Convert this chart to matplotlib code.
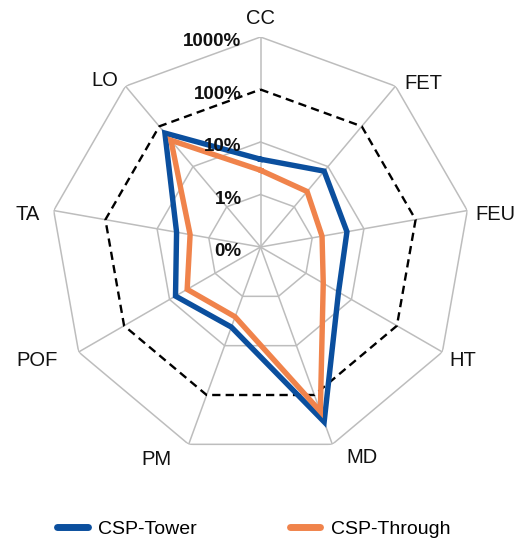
import numpy as np
import matplotlib
matplotlib.use("Agg")
import matplotlib.pyplot as plt
from matplotlib.lines import Line2D

plt.rcParams['font.family'] = ['Liberation Sans', 'DejaVu Sans']

# ---- data ----
categories = ["CC", "FET", "FEU", "HT", "MD", "PM", "POF", "TA", "LO"]
tower = [4.7, 7.7, 4.7, 5.2, 350, 4.2, 7.4, 4.2, 68]      # percent
through = [2.9, 2.4, 1.55, 2.4, 215, 2.6, 4.1, 2.3, 45]   # percent
ring_levels = [0.1, 1, 10, 100, 1000]
ring_labels = ["0%", "1%", "10%", "100%", "1000%"]
series_names = ["CSP-Tower", "CSP-Through"]

# ---- styling / layout ----
blue = "#0B4F9E"
orange = "#F0834B"
grid_col = "#BDBDBD"
label_offsets = [(0, -18), (28, -3), (28, 4), (20, 9), (30, 13),
                 (-32, 15), (-42, 8), (-26, 4), (-21, -6)]

W, H = 521, 543
fig = plt.figure(figsize=(W / 100, H / 100), dpi=100)
cx, cy, R = 260.5, 247.0, 210.0
ax = fig.add_axes([(cx - R) / W, (H - cy - R) / H, 2 * R / W, 2 * R / H],
                  projection='polar')
ax.set_theta_zero_location('N')
ax.set_theta_direction(-1)
ax.set_rscale('log')
ax.set_rlim(ring_levels[0], ring_levels[-1])
ax.grid(False)
ax.set_xticks([])
ax.set_yticks([])
ax.spines['polar'].set_visible(False)
ax.patch.set_visible(False)

n = len(categories)
angles = np.arange(n) * 2 * np.pi / n
closed = np.append(angles, angles[0])

# rings
for lv in ring_levels[1:]:
    if lv == 100:
        continue
    ax.plot(closed, [lv] * (n + 1), color=grid_col, lw=1.1, zorder=1)
# spokes
for a in angles:
    ax.plot([a, a], [ring_levels[0], ring_levels[-1]], color=grid_col, lw=1.1, zorder=1)
# dashed 100% ring
ax.plot(closed, [100] * (n + 1), color='black', lw=1.7, ls=(0, (3.5, 2.2)), zorder=2)

# series
for vals, col in [(tower, blue), (through, orange)]:
    v = list(vals) + [vals[0]]
    ax.plot(closed, v, color=col, lw=3.9, solid_joinstyle='miter', zorder=3)

# category labels
for a, lab, off in zip(angles, categories, label_offsets):
    ax.annotate(lab, xy=(a, ring_levels[-1]), xytext=(off[0], -off[1]),
                textcoords='offset pixels', ha='center', va='center',
                fontsize=14.5, color='#111111', annotation_clip=False)

# ring labels
for lv, lab in zip(ring_levels, ring_labels):
    ax.annotate(lab, xy=(0, lv), xytext=(-19, -5), textcoords='offset pixels',
                ha='right', va='center', fontsize=13.5, fontweight='bold',
                color='#111111', zorder=5, annotation_clip=False)

handles = [Line2D([0], [0], color=blue, lw=5, solid_capstyle='round'),
           Line2D([0], [0], color=orange, lw=5, solid_capstyle='round')]
fig.legend(handles, series_names, loc='center', ncol=2,
           bbox_to_anchor=(254 / W, 1 - 529 / H), frameon=False,
           fontsize=14, handlelength=1.55, handletextpad=0.55,
           columnspacing=4.8)

fig.savefig("out.png", dpi=100, facecolor='white')
